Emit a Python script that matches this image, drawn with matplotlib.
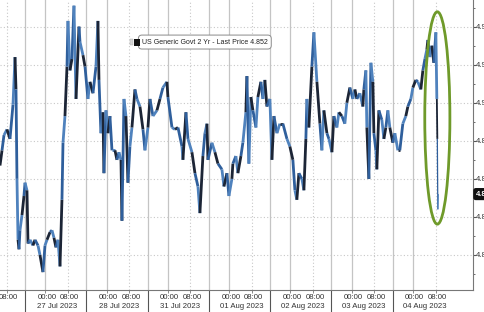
import matplotlib.pyplot as plt
from matplotlib.patches import Ellipse, Rectangle
from matplotlib.collections import LineCollection
import numpy as np

plt.rcParams['font.family'] = ['Liberation Sans', 'DejaVu Sans']

# trading-session axis: 26 Jul session = [0,1), 27 Jul = [1,2), ... 04 Aug = [7,8)
t = [0.592, 0.625, 0.657, 0.706, 0.755, 0.804, 0.837, 0.853, 0.869, 0.886,
     0.902, 0.918, 0.951, 0.983, 1.000, 1.032, 1.049, 1.081, 1.130, 1.163,
     1.212, 1.244, 1.293, 1.326, 1.359, 1.408, 1.440, 1.473, 1.505, 1.538,
     1.571, 1.603, 1.620, 1.652, 1.685, 1.701, 1.734, 1.766, 1.799, 1.832,
     1.881, 1.897, 1.946, 1.979, 2.027, 2.060, 2.109, 2.158, 2.190, 2.207,
     2.239, 2.272, 2.288, 2.321, 2.354, 2.386, 2.419, 2.468, 2.500, 2.533,
     2.566, 2.582, 2.615, 2.647, 2.680, 2.712, 2.745, 2.794, 2.827, 2.876,
     2.925, 2.957, 3.006, 3.039, 3.088, 3.153, 3.202, 3.251, 3.316, 3.332,
     3.398, 3.447, 3.496, 3.561, 3.577, 3.626, 3.659, 3.724, 3.773, 3.822,
     3.854, 3.903, 3.936, 3.969, 3.985, 4.050, 4.099, 4.148, 4.213, 4.246,
     4.295, 4.327, 4.376, 4.392, 4.441, 4.474, 4.523, 4.555, 4.604, 4.621,
     4.653, 4.686, 4.719, 4.768, 4.800, 4.849, 4.882, 4.914, 4.947, 4.996,
     5.029, 5.062, 5.111, 5.159, 5.208, 5.274, 5.322, 5.371, 5.404, 5.436,
     5.469, 5.518, 5.551, 5.583, 5.600, 5.632, 5.681, 5.714, 5.763, 5.812,
     5.844, 5.877, 5.926, 5.959, 6.008, 6.040, 6.089, 6.122, 6.171, 6.219,
     6.252, 6.301, 6.350, 6.383, 6.415, 6.464, 6.513, 6.529, 6.562, 6.578,
     6.611, 6.644, 6.676, 6.693, 6.725, 6.741, 6.774, 6.823, 6.856, 6.888,
     6.921, 6.953, 7.002, 7.035, 7.084, 7.116, 7.165, 7.214, 7.247, 7.296,
     7.329, 7.378, 7.410, 7.459, 7.492, 7.525, 7.557, 7.574, 7.606, 7.639,
     7.671, 7.704, 7.720, 7.728, 7.736, 7.744]

yld = [4.867, 4.875, 4.883, 4.886, 4.881, 4.899, 4.924, 4.907, 4.860, 4.828,
       4.823, 4.833, 4.841, 4.851, 4.858, 4.854, 4.826, 4.828, 4.825, 4.828,
       4.825, 4.820, 4.811, 4.825, 4.828, 4.832, 4.833, 4.829, 4.824, 4.828,
       4.814, 4.849, 4.879, 4.893, 4.919, 4.943, 4.917, 4.923, 4.951, 4.902,
       4.940, 4.932, 4.925, 4.919, 4.902, 4.911, 4.905, 4.919, 4.943, 4.912,
       4.884, 4.895, 4.863, 4.896, 4.884, 4.893, 4.875, 4.875, 4.870, 4.874,
       4.870, 4.838, 4.902, 4.893, 4.858, 4.877, 4.887, 4.907, 4.902, 4.898,
       4.886, 4.875, 4.887, 4.902, 4.893, 4.896, 4.902, 4.908, 4.911, 4.903,
       4.887, 4.886, 4.887, 4.877, 4.870, 4.895, 4.881, 4.874, 4.863, 4.856,
       4.842, 4.872, 4.884, 4.889, 4.870, 4.879, 4.874, 4.868, 4.865, 4.856,
       4.863, 4.851, 4.860, 4.868, 4.872, 4.863, 4.872, 4.879, 4.895, 4.914,
       4.868, 4.903, 4.896, 4.887, 4.903, 4.911, 4.902, 4.912, 4.898, 4.902,
       4.870, 4.893, 4.884, 4.889, 4.889, 4.881, 4.877, 4.870, 4.854, 4.849,
       4.863, 4.860, 4.854, 4.881, 4.902, 4.887, 4.919, 4.937, 4.911, 4.889,
       4.875, 4.896, 4.884, 4.881, 4.874, 4.893, 4.887, 4.895, 4.893, 4.889,
       4.900, 4.908, 4.902, 4.907, 4.902, 4.905, 4.898, 4.907, 4.917, 4.887,
       4.860, 4.921, 4.911, 4.884, 4.875, 4.865, 4.896, 4.891, 4.881, 4.887,
       4.896, 4.887, 4.879, 4.884, 4.875, 4.875, 4.889, 4.893, 4.898, 4.902,
       4.908, 4.912, 4.911, 4.907, 4.917, 4.923, 4.928, 4.933, 4.924, 4.930,
       4.921, 4.937, 4.902, 4.881, 4.844, 4.852]

sessions = ['26 Jul 2023', '27 Jul 2023', '28 Jul 2023', '31 Jul 2023',
            '01 Aug 2023', '02 Aug 2023', '03 Aug 2023', '04 Aug 2023']
yticks = [4.82, 4.84, 4.86, 4.88, 4.90, 4.92, 4.94]
last_price = 4.852

fig = plt.figure(figsize=(4.85, 3.12), dpi=100)
ax = fig.add_axes([0, 22 / 312, 473 / 485, 290 / 312])

x0, x1 = 0.592, 8.31
y0, y1 = 4.8016, 4.954

# grid
for v in yticks:
    ax.axhline(v, color='#c8c8c8', lw=0.8, ls=(0, (1, 2)), zorder=0)
for d in range(len(sessions)):
    ax.axvline(d, color='#c4c4c4', lw=0.9, zorder=0)
    ax.axvline(d + 0.33, color='#c4c4c4', lw=0.9, zorder=0)
    ax.axvline(d + 0.70, color='#c8c8c8', lw=0.8, ls=(0, (1, 2)), zorder=0)

# price bars drawn as alternating coloured segments
pts = np.column_stack([t, yld])
segs = np.stack([pts[:-1], pts[1:]], axis=1)
cols = ['#1c2536' if i % 3 == 0 else ('#2f5f9c' if i % 3 == 1 else '#4f82bd')
        for i in range(len(segs))]
lws = [2.0] * (len(segs) - 3) + [1.3, 0.9, 0.9]
ax.add_collection(LineCollection(segs, colors=cols, linewidths=lws, zorder=3))

# highlight ellipse
ell = Ellipse((7.728, 4.892), 0.41, 0.1116, fill=False,
              edgecolor='#6f9a2a', lw=2.0, zorder=4)
ax.add_patch(ell)

# legend box
ax.text(0.300, 0.855, 'US Generic Govt 2 Yr - Last Price 4.852',
        transform=ax.transAxes, color='#222222', fontsize=5.0, va='center',
        ha='left', zorder=5,
        bbox=dict(boxstyle='round,pad=0.5', fc='white', ec='#8a8a8a', lw=0.7))
ax.add_patch(Rectangle((0.275, 0.845), 0.006, 0.02, transform=ax.transAxes,
                       fc='#d6d6d6', ec='#aaaaaa', lw=0.3, zorder=6))
ax.add_patch(Rectangle((0.283, 0.843), 0.012, 0.024, transform=ax.transAxes,
                       fc='#111111', ec='none', zorder=6))

# axes styling
for s in ['top', 'left']:
    ax.spines[s].set_visible(False)
ax.spines['right'].set_color('#777777')
ax.spines['bottom'].set_color('#777777')
ax.yaxis.tick_right()
ax.set_yticks(yticks)
ax.set_yticklabels(['%.2f' % v for v in yticks], fontsize=5.6, color='#333333')
ax.set_yticks([v + 0.01 for v in yticks[:-1]] + [4.81, 4.95], minor=True)
ax.tick_params(axis='y', which='major', colors='#555555', length=2.0, pad=0.3,
               labelcolor='#333333')
ax.tick_params(axis='y', which='minor', colors='#555555', length=1.5)

ax.set_xticks(range(len(sessions)))
ax.set_xticklabels([])
ax.tick_params(axis='x', which='major', length=16, color='#555555', width=0.8)
minor = []
for d in range(len(sessions)):
    minor += [d + 0.33, d + 0.70]
ax.set_xticks(minor, minor=True)
ax.tick_params(axis='x', which='minor', length=2, color='#777777')

ax.set_xlim(x0, x1)
ax.set_ylim(y0, y1)

for d, name in enumerate(sessions):
    for frac, lab in [(0.36, '00:00'), (0.73, '08:00')]:
        if x0 - 0.2 < d + frac < x1:
            ax.text(d + frac, -0.025, lab, transform=ax.get_xaxis_transform(),
                    ha='center', va='center', fontsize=5.6, color='#333333',
                    clip_on=False)
    if d >= 1:
        ax.text(d + 0.53, -0.058, name, transform=ax.get_xaxis_transform(),
                ha='center', va='center', fontsize=5.6, color='#333333',
                clip_on=False)

# last price tag
ax.text(1.006, last_price, '4.852', transform=ax.get_yaxis_transform(),
        ha='left', va='center', fontsize=5.4, color='white', fontweight='bold',
        clip_on=False,
        bbox=dict(boxstyle='round,pad=0.25', fc='#111111', ec='#111111'))

fig.savefig('out.png', dpi=100)
